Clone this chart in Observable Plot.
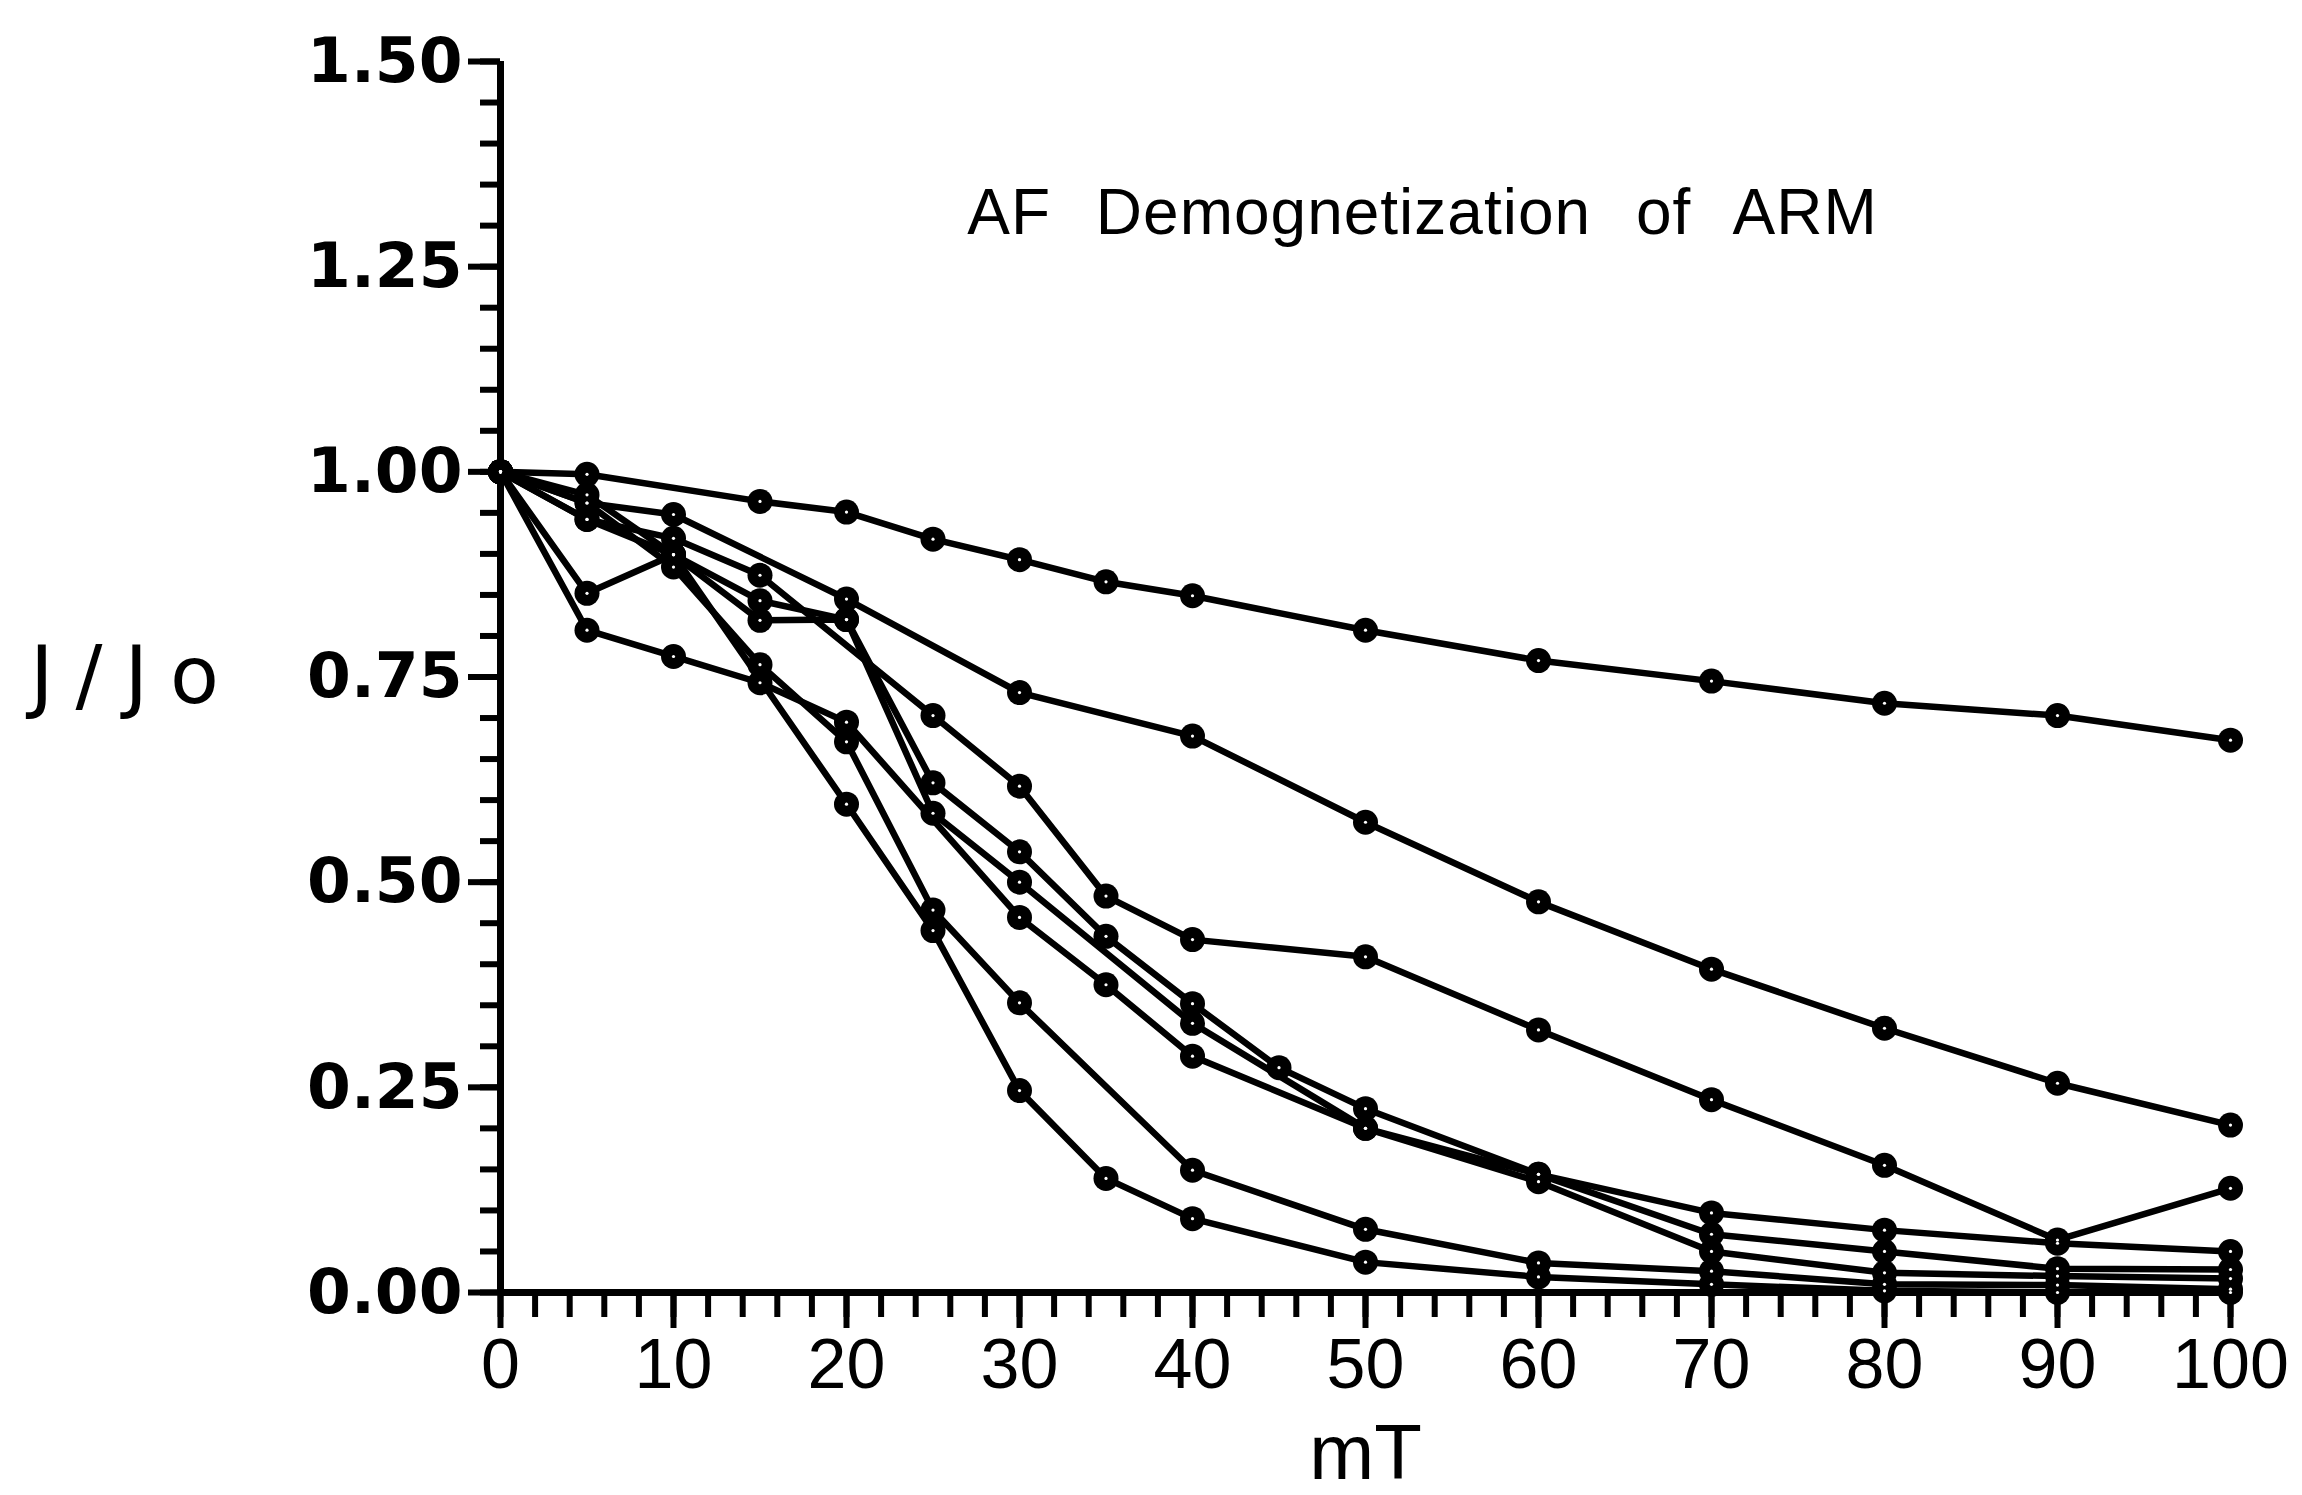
<!DOCTYPE html>
<html><head><meta charset="utf-8">
<script src="https://cdn.jsdelivr.net/npm/d3@7"></script>
<script src="https://cdn.jsdelivr.net/npm/@observablehq/plot@0.6"></script>
<style>
body{margin:0;background:#fff;}
#chart svg{display:block;}
</style></head><body><div id="chart"></div>
<script>
// AF demagnetization steps (mT)
const fieldsMT = [0, 5, 10, 15, 20, 25, 30, 35, 40, 45, 50, 60, 70, 80, 90, 100];
// J/Jo for each sample (null = no measurement at that step)
const sample1 = [1.00, 0.997, null, 0.964, 0.951, 0.918, 0.893, 0.866, 0.849, null, 0.807, 0.770, 0.745, 0.718, 0.703, 0.673];
const sample2 = [1.00, 0.962, 0.948, null, 0.845, null, 0.731, null, 0.678, null, 0.573, 0.476, 0.394, 0.322, 0.255, 0.204];
const sample3 = [1.00, 0.942, 0.919, 0.874, null, 0.703, 0.617, 0.483, 0.430, null, 0.409, 0.320, 0.235, 0.155, 0.064, 0.127];
const sample4 = [1.00, 0.972, 0.899, 0.843, 0.820, 0.621, 0.537, 0.434, 0.352, 0.274, 0.224, 0.144, 0.097, 0.076, 0.060, 0.050];
const sample5 = [1.00, 0.852, 0.899, 0.819, 0.820, 0.584, 0.500, null, 0.328, null, 0.200, 0.144, 0.071, 0.050, 0.029, 0.028];
const sample6 = [1.00, 0.807, 0.775, 0.743, 0.695, null, 0.457, 0.375, 0.288, null, 0.200, 0.135, 0.050, 0.024, 0.020, 0.017];
const sample7 = [1.00, 0.962, 0.884, 0.765, 0.671, 0.466, 0.353, null, 0.149, null, 0.077, 0.036, 0.026, 0.010, 0.009, 0.004];
const sample8 = [1.00, 0.942, 0.899, null, 0.595, 0.441, 0.246, 0.139, 0.090, null, 0.037, 0.019, 0.010, 0.002, 0.000, 0.000];
const sampleNames = ["1", "2", "3", "4", "5", "6", "7", "8"];
const sampleValues = [sample1, sample2, sample3, sample4, sample5, sample6, sample7, sample8];

const xTicks = [0, 10, 20, 30, 40, 50, 60, 70, 80, 90, 100];
const yTicks = [0, 0.25, 0.5, 0.75, 1.0, 1.25, 1.5];
const titleText = "AF Demognetization of ARM";
const yLabel = "J/Jo";
const xLabel = "mT";

const rows = sampleValues.flatMap((vals, i) =>
  vals.map((v, j) => ({sample: sampleNames[i], mT: fieldsMT[j], J: v})).filter(d => d.J != null));

const xMinor = d3.range(0, 100.001, 2);
const yMinor = d3.range(0, 1.5001, 0.05);

const chart = Plot.plot({
  width: 2302, height: 1495,
  marginLeft: 500, marginRight: 72, marginTop: 61, marginBottom: 203,
  style: {background: "white", color: "black", fontFamily: "Liberation Sans"},
  x: {domain: [0, 100], label: null},
  y: {domain: [0, 1.5], label: null},
  marks: [
    Plot.axisY(yMinor, {tickSize: 20, strokeWidth: 6, tickFormat: () => "", label: null}),
    Plot.axisY(yTicks, {tickSize: 32, tickPadding: 6, strokeWidth: 6, tickFormat: d3.format(".2f"),
      fontSize: 63, fontWeight: "bold", fontFamily: "DejaVu Sans", label: null}),
    Plot.axisX(xMinor, {tickSize: 25, strokeWidth: 6, tickFormat: () => "", label: null}),
    Plot.axisX(xTicks, {tickSize: 36, tickPadding: 10, strokeWidth: 6,
      fontSize: 70, fontFamily: "Liberation Sans", label: null}),
    Plot.ruleX([0], {strokeWidth: 7}),
    Plot.ruleY([0], {strokeWidth: 7}),
    Plot.line(rows, {x: "mT", y: "J", z: "sample", stroke: "black", strokeWidth: 6.5}),
    Plot.dot(rows, {x: "mT", y: "J", r: 12.5, fill: "black"}),
    Plot.dot(rows, {x: "mT", y: "J", r: 1.6, fill: "white"}),
    Plot.text([titleText], {frameAnchor: "top", dx: 57, dy: 152, fontSize: 64,
      fontFamily: "Liberation Sans", lineAnchor: "middle"}),
    Plot.text([yLabel], {frameAnchor: "left", textAnchor: "middle", dx: -365, fontSize: 80,
      fontFamily: "DejaVu Sans", lineAnchor: "middle"}),
    Plot.text([xLabel], {frameAnchor: "bottom", dy: 162, fontSize: 78, fontFamily: "Liberation Sans", lineAnchor: "middle"})
  ]
});
document.getElementById("chart").appendChild(chart);
d3.select(chart).selectAll("text").each(function() {
  const t = this.textContent;
  if (t === yLabel) d3.select(this).attr("letter-spacing", "22px");
  if (t === titleText) d3.select(this).attr("word-spacing", "26px").attr("letter-spacing", "1px");
});
</script></body></html>
